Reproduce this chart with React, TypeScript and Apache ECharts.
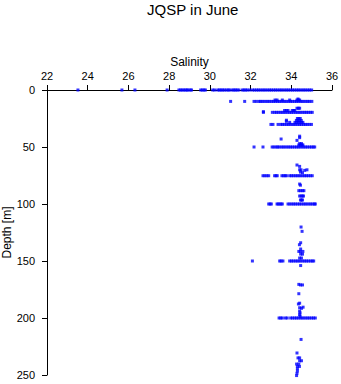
import React, { useEffect, useRef } from "react";
import * as echarts from "echarts";

// Horizontal sampling rows: depth of each row and the salinities read along it
const rowDepths = [0, 10, 19.6, 30.2, 50, 75.2, 100, 150, 200];

const sal0 = [23.52, 25.68, 26.32, 27.9, 28.48, 28.56, 28.64, 28.72, 28.8, 28.88, 28.93, 29.04, 29.1,
  29.55, 29.63, 29.71, 29.78, 30.14, 30.24, 30.39, 30.47, 30.55, 30.63, 30.71, 30.81, 30.9, 30.97,
  31.1, 31.18, 31.26, 31.34, 31.43, 31.6, 31.68, 31.76, 31.84, 31.96,
  32.1, 32.19, 32.29, 32.38, 32.47, 32.57, 32.66, 32.75, 32.85, 32.94, 33.03, 33.13, 33.22, 33.31,
  33.41, 33.5, 33.59, 33.69, 33.78, 33.87, 33.97, 34.06, 34.15, 34.25, 34.34, 34.43, 34.53, 34.62,
  34.71, 34.81, 34.9, 35.0];
const sal10 = [31.02, 31.71, 32.17, 32.28, 32.41, 32.48, 32.57, 32.66, 32.76, 32.85, 32.94, 33.04,
  33.13, 33.22, 33.32, 33.41, 33.5, 33.6, 33.69, 33.78, 33.88, 33.97, 34.06, 34.16, 34.25, 34.34,
  34.44, 34.53, 34.62, 34.72, 34.81, 34.9, 35.01];
const sal20 = [32.63, 33.07, 33.18, 33.27, 33.36, 33.46, 33.55, 33.64, 33.73, 33.83, 33.92, 34.01,
  34.1, 34.2, 34.29, 34.38, 34.47, 34.57, 34.66, 34.75, 34.84, 34.94, 35.03];
const sal30 = [33.0, 33.1, 33.35, 33.48, 33.57, 33.66, 33.76, 33.85, 33.94, 34.04, 34.13, 34.22,
  34.32, 34.41, 34.5, 34.6, 34.69, 34.78, 34.88, 34.99];
const sal50 = [32.17, 32.61, 33.06, 33.15, 33.25, 33.33, 33.4, 33.51, 33.6, 33.69, 33.79, 33.88,
  33.97, 34.06, 34.16, 34.25, 34.34, 34.43, 34.53, 34.62, 34.71, 34.8, 34.9, 34.99, 35.08, 35.15];
const sal75 = [32.61, 32.7, 32.8, 32.89, 33.18, 33.25, 33.31, 33.54, 33.62, 33.7, 33.76, 33.92,
  34.01, 34.1, 34.2, 34.29, 34.38, 34.47, 34.57, 34.66, 34.75, 34.84, 34.94, 35.03];
const sal100 = [32.89, 32.96, 33.02, 33.3, 33.36, 33.44, 33.5, 33.56, 33.84, 33.93, 34.03, 34.12,
  34.21, 34.31, 34.4, 34.49, 34.59, 34.68, 34.77, 34.87, 34.96, 35.05, 35.14, 35.18];
const sal150 = [32.09, 33.43, 33.5, 33.59, 33.92, 34.01, 34.1, 34.2, 34.29, 34.38, 34.47, 34.57,
  34.66, 34.75, 34.84, 34.94, 35.03, 35.1];
const sal200 = [33.4, 33.48, 33.56, 33.71, 33.8, 33.97, 34.06, 34.16, 34.25, 34.34, 34.44, 34.53,
  34.62, 34.72, 34.81, 34.9, 35.0, 35.09, 35.18];
const rowSalinities = [sal0, sal10, sal20, sal30, sal50, sal75, sal100, sal150, sal200];

// Scattered profile points between the rows
const profileSal = [33.2, 33.3, 33.56, 33.92, 34.28, 34.35, 34.41, 34.33,
  32.63, 33.67, 33.76, 33.84, 34.05, 34.12, 34.17, 34.28, 34.35, 34.41,
  33.92, 34.18, 34.26, 34.34, 34.42, 34.5, 34.57, 34.25, 34.33, 34.41, 34.49, 34.3, 34.37, 34.44, 33.76, 33.76,
  33.5, 34.28, 34.41, 34.41,
  34.37, 34.45, 34.52, 34.57, 34.41, 34.5,
  34.28, 34.41, 34.41, 34.48, 34.77, 34.66, 34.45, 34.55,
  34.41, 34.45, 34.37, 34.45, 34.55, 34.62, 34.41, 34.48, 34.55, 34.6, 34.45, 34.5, 34.55,
  34.48, 34.53, 34.46, 34.4, 34.46, 34.37, 34.45, 34.57, 34.46, 34.55, 34.41, 34.5,
  34.46, 34.37, 34.45, 34.55, 34.37, 34.35, 34.41, 34.41, 34.5, 34.58, 34.41, 34.43, 34.41, 34.43,
  34.48, 34.28, 34.33, 34.41, 34.41, 34.5, 34.26, 34.37, 34.3, 34.4, 34.3, 34.3, 34.28, 34.26];
const profileDepth = [8.8, 8.8, 8.8, 8.8, 8.8, 8.8, 8.8, 7.9,
  19, 18, 18, 18, 18, 18, 18, 16, 16, 16,
  28.4, 28.4, 28.4, 28.4, 28.4, 28.4, 28.4, 26.7, 26.7, 26.7, 26.7, 25, 25, 25, 27.5, 26.5,
  43, 44.2, 40.5, 41.8,
  48.2, 48.2, 48.2, 48.2, 47, 47,
  65.8, 67, 70, 70, 70, 70.5, 72, 72.5,
  82.5, 83.5, 88.3, 88.3, 88.3, 88.3, 93, 93, 93, 93, 96.5, 96.5, 96.5,
  120.2, 124, 134, 135.7, 139.5, 141.6, 141.6, 141.6, 143.9, 144, 147.4, 147.4,
  154, 170.5, 171, 171, 178.7, 187.7, 187, 191, 191.5, 190.5, 194, 195.5, 197, 198.5,
  218.8, 230.7, 235, 235, 237.5, 237.5, 240.4, 240.4, 242.5, 242.5, 244.5, 246.5, 248.5, 250.5];

const xTicks = { min: 22, max: 36, interval: 2 };
const yTicks = { min: 0, max: 250, interval: 50 };

const FONT = "'Liberation Sans', Arial, sans-serif";

export default function App() {
  const ref = useRef<HTMLDivElement>(null);
  useEffect(() => {
    if (!ref.current) return;
    const chart = echarts.init(ref.current, undefined, { renderer: "svg" });
    const data: number[][] = [];
    rowDepths.forEach((d, i) => rowSalinities[i].forEach((s) => data.push([s, d])));
    profileSal.forEach((s, i) => data.push([s, profileDepth[i]]));
    chart.setOption({
      animation: false,
      backgroundColor: "#ffffff",
      title: {
        text: "JQSP in June",
        left: 142,
        top: -3,
        textStyle: { fontFamily: FONT, fontSize: 15, fontWeight: "normal", color: "#000" },
      },
      grid: { left: 47, top: 90, right: 9, bottom: 9, containLabel: false, outerBoundsMode: "none" },
      xAxis: {
        type: "value",
        position: "top",
        min: xTicks.min,
        max: xTicks.max,
        interval: xTicks.interval,
        name: "Salinity",
        nameLocation: "middle",
        nameGap: 22,
        nameMoveOverlap: false,
        nameTextStyle: { fontFamily: FONT, fontSize: 12, color: "#000" },
        axisLine: { show: true, onZero: false, lineStyle: { color: "#000", width: 1 } },
        axisTick: { show: true, inside: false, length: 5, lineStyle: { color: "#000" } },
        axisLabel: { fontFamily: FONT, fontSize: 11, color: "#000", margin: 9 },
        splitLine: { show: false },
      },
      yAxis: {
        type: "value",
        inverse: true,
        min: yTicks.min,
        max: yTicks.max,
        interval: yTicks.interval,
        name: "Depth [m]",
        nameLocation: "middle",
        nameGap: 34,
        nameMoveOverlap: false,
        nameTextStyle: { fontFamily: FONT, fontSize: 12, color: "#000" },
        axisLine: { show: true, onZero: false, lineStyle: { color: "#000", width: 1 } },
        axisTick: { show: true, inside: false, length: 5, lineStyle: { color: "#000" } },
        axisLabel: { fontFamily: FONT, fontSize: 11, color: "#000", margin: 12 },
        splitLine: { show: false },
      },
      series: [
        {
          type: "scatter",
          data,
          symbol: "rect",
          symbolSize: 3,
          itemStyle: { color: "#0000ff" },
          z: 5,
          clip: false,
        },
      ],
    });
    return () => chart.dispose();
  }, []);
  return (
    <div
      ref={ref}
      style={{ position: "fixed", left: 0, top: 0, width: 341, height: 384, background: "#fff" }}
    />
  );
}
